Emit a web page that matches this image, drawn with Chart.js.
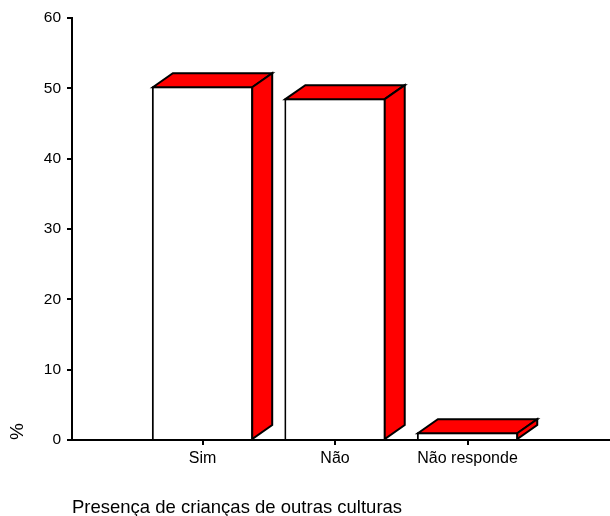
<!DOCTYPE html>
<html>
<head>
<meta charset="utf-8">
<script src="https://cdn.jsdelivr.net/npm/chart.js@4/dist/chart.umd.min.js"></script>
<style>
    html, body { margin: 0; padding: 0; background: #fff; }
    #wrap { width: 610px; height: 516px; position: relative; }
</style>
</head>
<body>
<div id="wrap"><canvas id="criancasChart"></canvas></div>
<script>
// Presença de crianças de outras culturas (%)
const categories = ['Sim', 'Não', 'Não responde'];
const percentages = [50.3, 48.6, 1.1];
const yTicks = [0, 10, 20, 30, 40, 50, 60];

// 3D look: red top and side faces drawn behind/right of each bar
const depthX = 20;
const depthY = -14;

const bar3d = {
    id: 'bar3d',
    afterDatasetsDraw(chart) {
        const ctx = chart.ctx;
        const meta = chart.getDatasetMeta(0);
        const bw = meta.controller.getDataset().borderWidth / 2;
        ctx.save();
        ctx.fillStyle = '#ff0000';
        ctx.strokeStyle = '#000';
        ctx.lineWidth = 2;
        ctx.lineJoin = 'miter';
        meta.data.forEach(bar => {
            const { x, y, base, width } = bar.getProps(['x', 'y', 'base', 'width'], true);
            const left = x - width / 2 + bw;
            const right = x + width / 2 - bw;
            const top = y + bw;
            const bottom = base;

            // top face
            ctx.beginPath();
            ctx.moveTo(left, top);
            ctx.lineTo(left + depthX, top + depthY);
            ctx.lineTo(right + depthX, top + depthY);
            ctx.lineTo(right, top);
            ctx.closePath();
            ctx.fill();
            ctx.stroke();

            // side face
            ctx.beginPath();
            ctx.moveTo(right, top);
            ctx.lineTo(right + depthX, top + depthY);
            ctx.lineTo(right + depthX, bottom + depthY);
            ctx.lineTo(right, bottom);
            ctx.closePath();
            ctx.fill();
            ctx.stroke();
        });
        ctx.restore();
    }
};

const font = 'Liberation Sans, Arial, Helvetica, sans-serif';

new Chart(document.getElementById('criancasChart'), {
    type: 'bar',
    data: {
        datasets: [{
            data: categories.map((c, i) => ({ x: i + 1, y: percentages[i] })),
            backgroundColor: '#fff',
            borderColor: '#000',
            borderWidth: 2,
            borderSkipped: 'start',
            categoryPercentage: 1,
            barPercentage: 0.765
        }]
    },
    options: {
        responsive: true,
        maintainAspectRatio: false,
        animation: false,
        events: [],
        layout: { padding: { top: 18, right: 0, bottom: 0, left: 0 } },
        plugins: {
            legend: { display: false },
            tooltip: { enabled: false }
        },
        scales: {
            x: {
                type: 'linear',
                offset: false,
                min: 0.015,
                max: 4.075,
                afterBuildTicks: scale => {
                    scale.ticks = categories.map((c, i) => ({ value: i + 1 }));
                },
                afterFit: scale => { scale.height = 76; },
                border: { color: '#000', width: 2 },
                grid: { offset: false, drawOnChartArea: false, color: '#000', lineWidth: 2, tickLength: 5 },
                ticks: {
                    color: '#000',
                    padding: 4,
                    maxRotation: 0,
                    autoSkip: false,
                    font: { family: font, size: 16 },
                    callback: (value, index) => categories[index]
                },
                title: {
                    display: true,
                    text: 'Presença de crianças de outras culturas',
                    align: 'start',
                    color: '#000',
                    font: { family: font, size: 18.5, lineHeight: 1 },
                    padding: { top: 0, bottom: -1 }
                }
            },
            y: {
                min: 0,
                max: 60,
                afterBuildTicks: scale => {
                    scale.ticks = yTicks.map(v => ({ value: v }));
                },
                afterFit: scale => { scale.width = 72; },
                border: { color: '#000', width: 2 },
                grid: { drawOnChartArea: false, color: '#000', lineWidth: 2, tickLength: 5 },
                ticks: {
                    color: '#000',
                    padding: 6,
                    font: { family: font, size: 15.5 }
                },
                title: {
                    display: true,
                    text: '%',
                    align: 'start',
                    color: '#000',
                    font: { family: font, size: 19, lineHeight: 1 },
                    padding: { top: 8, bottom: 0 }
                }
            }
        }
    },
    plugins: [bar3d]
});
</script>
</body>
</html>
